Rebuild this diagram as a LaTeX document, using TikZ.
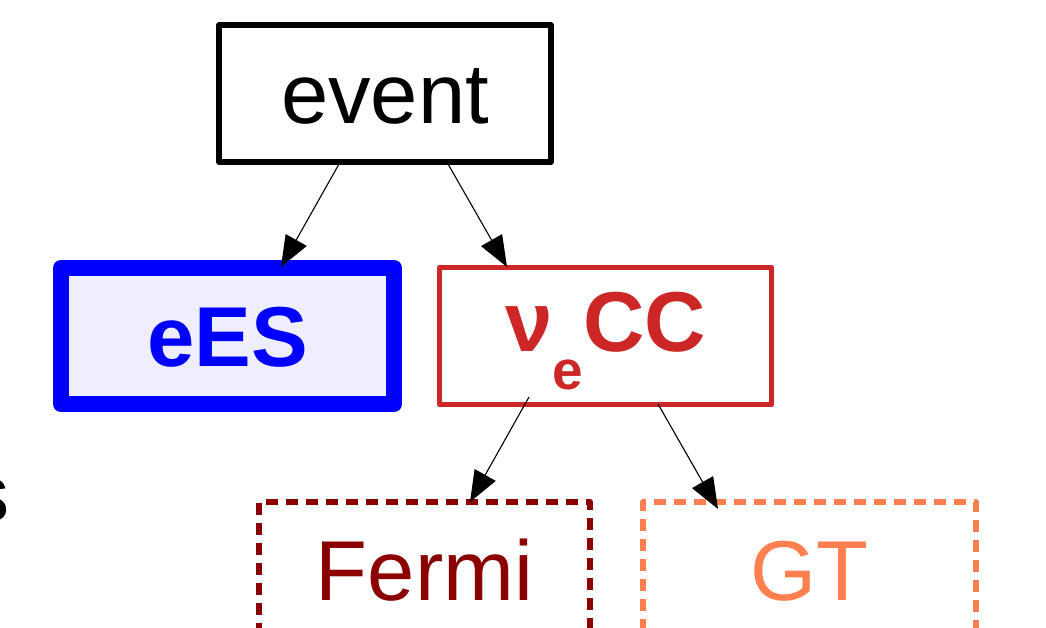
\documentclass[tikz,border=0pt]{standalone}
\usepackage{fontspec}
\setmainfont{Liberation Sans}
\usetikzlibrary{arrows.meta,calc}
\definecolor{ccred}{RGB}{205,38,38}
\definecolor{fermired}{RGB}{139,0,0}
\definecolor{gtcoral}{RGB}{255,127,80}
\definecolor{eesfill}{RGB}{238,238,255}
\tikzset{
  box/.style={draw, rectangle, inner sep=0pt, outer sep=0pt, line join=round,
    minimum width=332pt, minimum height=137pt, align=center,
    font=\fontsize{85}{100}\selectfont, text height=60pt, text depth=0pt},
  dashbox/.style={box, line width=6pt, dash pattern=on 12pt off 8pt},
  arr/.style={draw=black, line width=1.1pt, -{Triangle[length=31pt,width=24pt]}}
}
\begin{document}
\begin{tikzpicture}[x=1pt,y=1pt]
\useasboundingbox (0,0) rectangle (1046,627);
\fill[white] (0,0) rectangle (1046,627);
\node[box, line width=5.5pt] (event) at (385,533.5) {event};
\node[box, line width=16pt, draw=blue, fill=eesfill, text=blue,
  minimum width=333pt, minimum height=136pt,
  font=\fontsize{85}{100}\selectfont\bfseries] (eES) at (227.5,291) {eES};
\node[box, line width=5.5pt, draw=ccred, text=ccred, text height=30pt,
  font=\fontsize{85}{100}\selectfont\bfseries] (nuCC) at (605.5,291)
  {ν\raisebox{-39pt}{\fontsize{55}{60}\selectfont\bfseries e}CC};
\node[dashbox, draw=fermired, text=fermired, minimum width=331pt] (fermi) at (424.5,56.5) {Fermi};
\node[dashbox, draw=gtcoral, text=gtcoral, minimum width=333pt] (gt) at (809.5,56.5) {GT};
\node[anchor=base east, inner sep=0pt, font=\fontsize{80}{90}\selectfont] (s) at (9.4,106) {s};
\draw[arr] ($(event.south)+(-46,-2)$) -- ($(eES.north)+(53.5,1)$);
\draw[arr] ($(event.south)+(63,-2)$) -- ($(nuCC.north)+(-98.5,0.5)$);
\draw[arr] ($(nuCC.south)+(-76.5,7.5)$) -- ($(fermi.north)+(45.5,0)$);
\draw[arr] ($(nuCC.south)+(52.5,0.5)$) -- ($(gt.north)+(-91.5,-7)$);
\end{tikzpicture}
\end{document}
